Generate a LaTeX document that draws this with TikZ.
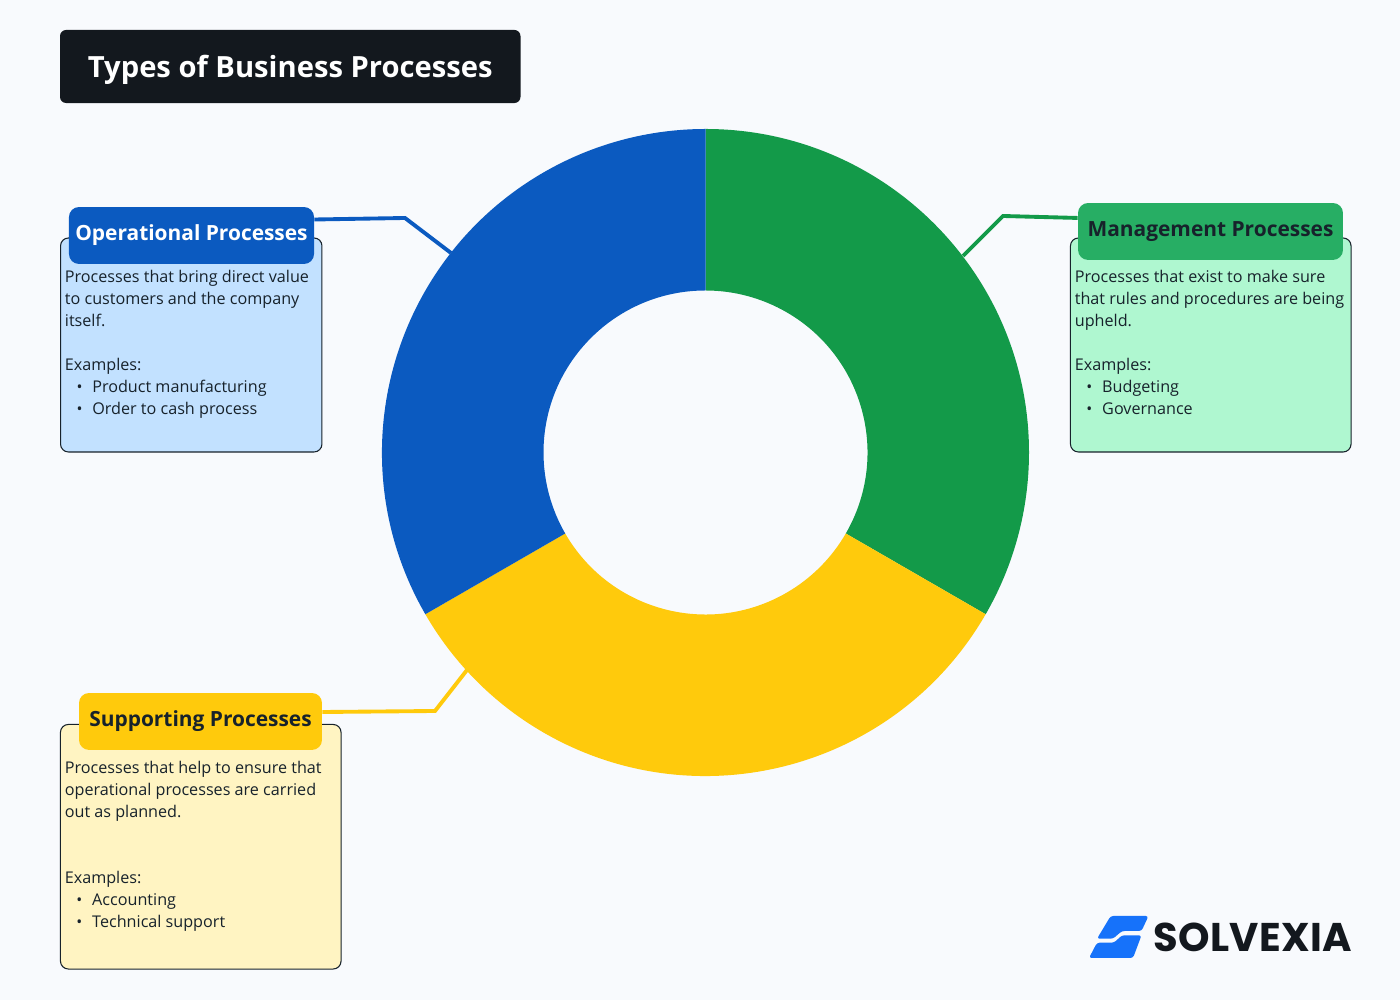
\documentclass[tikz,border=0pt]{standalone}
\usepackage{fontspec}
\setmainfont{Open Sans}
\newfontfamily\logofont{Poppins}
\usetikzlibrary{positioning}

\definecolor{pagebg}{HTML}{F8FAFD}
\definecolor{titlebg}{HTML}{13181E}
\definecolor{inkdark}{HTML}{17222B}
\definecolor{opblue}{HTML}{0B5AC0}
\definecolor{opbluelight}{HTML}{C2E1FF}
\definecolor{mggreen}{HTML}{139A49}
\definecolor{mggreentab}{HTML}{27AE64}
\definecolor{mggreenlight}{HTML}{AFF7D0}
\definecolor{supyellow}{HTML}{FFCA0C}
\definecolor{supyellowlight}{HTML}{FFF4C2}
\definecolor{logoblue}{HTML}{1672FA}

\newcommand{\itemline}[1]{\hspace*{6.6pt}{\small\textbullet}\hspace{5.6pt}#1}

\tikzset{
    infobox/.style={draw=inkdark, line width=0.6pt, rounded corners=4.5pt},
    tabbox/.style={rounded corners=5.7pt, minimum height=32.4pt, inner sep=0pt,
        font=\fontsize{11.9pt}{15pt}\selectfont\bfseries},
    bodytext/.style={inner sep=0pt, align=left, text=inkdark,
        font=\fontsize{9.2pt}{12.52pt}\selectfont},
    linkline/.style={line width=2.2pt},
}

\begin{document}
\begin{tikzpicture}[x=0.02cm,y=0.02cm]

    \useasboundingbox[fill=pagebg] (0,0) rectangle (1400,1000);

    \node(title)[fill=titlebg,rounded corners=3.5pt,minimum width=262.1pt,minimum height=41.6pt,
        inner sep=0pt,text=white,text height=14.2pt,text depth=2.2pt,
        font=\fontsize{16.6pt}{19pt}\selectfont\bfseries] at (290.25,933.5) {Types of Business Processes};

    % boxes
    \node(opbox)[infobox,fill=opbluelight,minimum width=148.8pt,minimum height=121.8pt] at (191.25,655) {};
    \node(mgbox)[infobox,fill=mggreenlight,minimum width=159.7pt,minimum height=121.8pt] at (1210.75,655) {};
    \node(supbox)[infobox,fill=supyellowlight,minimum width=159.7pt,minimum height=139.2pt] at (200.75,153.25) {};

    \node(optab)[tabbox,fill=opblue,text=white,minimum width=139.5pt] at (191.5,764.5) {Operational Processes};
    \node(mgtab)[tabbox,fill=mggreentab,text=inkdark,minimum width=150.8pt] at (1210.5,768.5) {Management Processes};
    \node(suptab)[tabbox,fill=supyellow,text=inkdark,minimum width=138.3pt] at (200.5,278.5) {Supporting Processes};

    \node(optext)[bodytext,below right=18.2pt and 2.6pt of opbox.north west] {Processes that bring direct value\\to customers and the company\\itself.\\\mbox{}\\Examples:\\\itemline{Product manufacturing}\\\itemline{Order to cash process}};
    \node(mgtext)[bodytext,below right=18.2pt and 2.6pt of mgbox.north west] {Processes that exist to make sure\\that rules and procedures are being\\upheld.\\\mbox{}\\Examples:\\\itemline{Budgeting}\\\itemline{Governance}};
    \node(suptext)[bodytext,below right=21.1pt and 2.6pt of supbox.north west] {Processes that help to ensure that\\operational processes are carried\\out as planned.\\\mbox{}\\\mbox{}\\Examples:\\\itemline{Accounting}\\\itemline{Technical support}};

    % connectors
    \coordinate(opbend) at (405,782);
    \coordinate(opring) at (451,747);
    \coordinate(mgbend) at (1003,784);
    \coordinate(mgring) at (963,744);
    \coordinate(supbend) at (435,289);
    \coordinate(supring) at (467,330);

    \draw[linkline,opblue] ([yshift=9.1pt]optab.east) -- (opbend) -- (opring);
    \draw[linkline,mggreen] ([yshift=7.7pt]mgtab.west) -- (mgbend) -- (mgring);
    \draw[linkline,supyellow] ([yshift=5.4pt]suptab.east) -- (supbend) -- (supring);

    % ring
    \foreach \ringfrom/\ringto/\ringcol in {90/-30/mggreen,-30/-150/supyellow,-150/-270/opblue}
        \fill[\ringcol,shift={(705.5,547.5)}] (\ringfrom:323.5) arc[start angle=\ringfrom,end angle=\ringto,radius=323.5]
            -- (\ringto:162) arc[start angle=\ringto,end angle=\ringfrom,radius=162] -- cycle;

    % logo
    \fill[logoblue,rounded corners=1.5pt] (1110.7,84) -- (1148.5,84) -- (1141.5,69) -- (1122,69)
        -- (1113,61.3) -- (1097,61.3) -- cycle;
    \fill[logoblue,rounded corners=1.5pt] (1097,57.3) -- (1114,57.3) -- (1122,64.7) -- (1141.5,64.7)
        -- (1133,42) -- (1089,42) -- cycle;
    \node(logotext)[inner sep=0pt,anchor=west,text=titlebg,font=\logofont\fontsize{22.8pt}{23pt}\selectfont\bfseries] at (1153,63) {\addfontfeatures{LetterSpace=1}SOLVEXIA};

\end{tikzpicture}
\end{document}
